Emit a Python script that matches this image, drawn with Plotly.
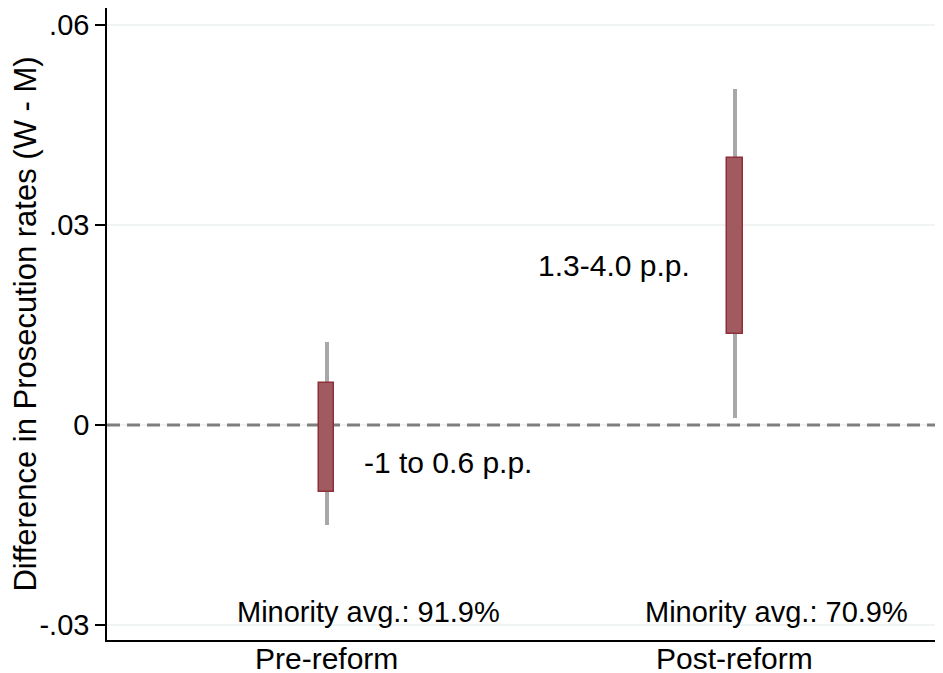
import plotly.graph_objects as go

# ---- data ----
categories = ["Pre-reform", "Post-reform"]
cat_pos = [1, 2]
ci95_low = [-0.0150, 0.0011]
ci95_high = [0.0125, 0.0504]
ci_inner_low = [-0.0100, 0.0136]
ci_inner_high = [0.0063, 0.0400]
range_labels = ["-1 to 0.6 p.p.", "1.3-4.0 p.p."]
minority_labels = ["Minority avg.: 91.9%", "Minority avg.: 70.9%"]
y_ticks = [-0.03, 0, 0.03, 0.06]
y_ticktext = ["-.03", "0", ".03", ".06"]

FONT = "Liberation Sans, Arial, Helvetica, sans-serif"

# the page body adds an 8px offset; the figure is sized to fill the rest of the window
OFF = 8

fig = go.Figure()

# outer (thin) intervals
fig.add_trace(go.Bar(
    x=cat_pos,
    y=[h - l for l, h in zip(ci95_low, ci95_high)],
    base=ci95_low,
    width=0.0095,
    marker=dict(color="#A8A8A8", line=dict(width=0)),
    showlegend=False, hoverinfo="skip",
))
# inner (thick) intervals
fig.add_trace(go.Bar(
    x=cat_pos,
    y=[h - l for l, h in zip(ci_inner_low, ci_inner_high)],
    base=ci_inner_low,
    width=0.038,
    marker=dict(color="#A15A5F", line=dict(color="#8E2F3B", width=1.5)),
    showlegend=False, hoverinfo="skip",
))

# light gridlines (drawn below the data)
for yv in y_ticks:
    fig.add_shape(type="line", xref="paper", x0=0, x1=1, yref="y", y0=yv, y1=yv,
                  line=dict(color="#EBF0F2", width=1.5), layer="below")
# zero reference line
fig.add_shape(type="line", xref="paper", x0=0, x1=1, yref="y", y0=0, y1=0,
              line=dict(color="#7F7F7F", width=3, dash="13px,7px"), layer="below")

# annotations
fig.add_annotation(x=1.087, y=-0.0056, text=range_labels[0], showarrow=False,
                   xanchor="left", yanchor="middle", font=dict(size=30, color="black", family=FONT))
fig.add_annotation(x=1.514, y=0.024, text=range_labels[1], showarrow=False,
                   xanchor="left", yanchor="middle", font=dict(size=30, color="black", family=FONT))
for xp, txt in zip([0.776, 1.776], minority_labels):
    fig.add_annotation(x=xp, y=-0.0281, text=txt, showarrow=False,
                       xanchor="left", yanchor="middle", font=dict(size=29, color="black", family=FONT))
# category labels under the axis
for xp, txt in zip(cat_pos, categories):
    fig.add_annotation(x=xp, xref="x", y=0, yref="paper", text=txt, showarrow=False,
                       xanchor="center", yanchor="top", yshift=-3,
                       height=28, valign="middle", borderpad=0,
                       font=dict(size=30, color="black", family=FONT))

fig.update_layout(
    width=943 - OFF, height=673 - OFF,
    margin=dict(l=107 - OFF, r=0, t=0, b=33, autoexpand=False),
    paper_bgcolor="white", plot_bgcolor="white",
    font=dict(family=FONT, size=29, color="black"),
    bargap=0, barmode="overlay",
    xaxis=dict(
        range=[0.462, 2.51],
        tickvals=cat_pos, ticktext=["", ""],
        showgrid=False, zeroline=False,
        showline=True, linecolor="black", linewidth=1.5,
        ticks="", automargin=False,
    ),
    yaxis=dict(
        range=[-0.03225, 0.06255],
        tickvals=y_ticks, ticktext=y_ticktext,
        showgrid=False,
        zeroline=False,
        showline=True, linecolor="black", linewidth=1.5,
        ticks="outside", ticklen=10, tickwidth=1.5, tickcolor="black",
        tickfont=dict(size=29),
        automargin=False,
        title=dict(text="Difference in Prosecution rates (W - M)", font=dict(size=31), standoff=6),
    ),
)

fig.write_html("out.html")
